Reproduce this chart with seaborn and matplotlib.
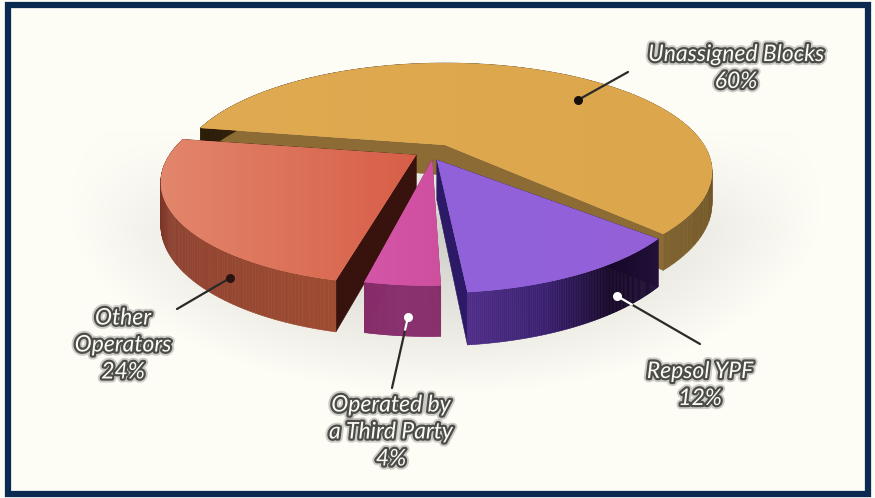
import numpy as np
import matplotlib
matplotlib.use('Agg')
import matplotlib.pyplot as plt
import matplotlib.patheffects as pe
from matplotlib.collections import PolyCollection
from matplotlib.colors import LinearSegmentedColormap, to_rgb
from matplotlib.patches import Rectangle
from matplotlib.transforms import Transform
import seaborn as sns

# chart values
categories = ['Unassigned Blocks', 'Other\nOperators', 'Operated by\na Third Party', 'Repsol YPF']
shares = [60, 24, 4, 12]

# slice look, same order as categories
top_colors = [['#e0aa52', '#dca64c'], ['#e2866c', '#d85e48'], ['#d456a8', '#cf4f9f'], ['#9062da', '#9460d8']]
arc_colors = [['#2c1c08', '#4a3414', '#806430'], ['#5a1e18', '#8e4230', '#9e4c32'],
              ['#862c68', '#8a3070', '#88306c'], ['#4e2c88', '#3a2070', '#160828', '#221038']]
cut_colors = ['#8c6c34', '#38120c', '#862c68', '#2c1a66']
slice_centers = [(0, 0), (-0.109, -0.096), (-0.048, -0.142), (-0.03, -0.142)]
slice_radius = [1.0, 0.93, 0.89, 0.93]
slice_turn = [0, 0.6, 1.5, 5.0]
slice_depth = [30, 39, 38, 39]

# leader lines: dot then far end, dot colour
leaders = [((578, 100), (628, 72), '#15100a'), ((230, 278), (177, 309), '#2a1410'),
           ((408, 317), (392, 388), 'white'), ((617, 296), (700, 344), 'white')]
label_pos = [(736, 68), (123, 345), (391, 432), (700, 385)]

ORIGIN = (445, 145)
PIE_A, PIE_B, PIE_K = 259, 102, 0.244


def project(x, y, z=0.0):
    w = 1 + PIE_K * y
    return ORIGIN[0] + PIE_A * x / w, ORIGIN[1] - PIE_B * y / w + z / w


class PiePlane(Transform):
    input_dims = 2
    output_dims = 2

    def transform_non_affine(self, values):
        px, py = project(values[:, 0], values[:, 1])
        return np.column_stack([px, py])


def text_effects():
    return [pe.withStroke(linewidth=6, foreground='#00000030'),
            pe.withStroke(linewidth=3.2, foreground='#4c4c48')]


sns.set_theme(style='white')
plt.rcParams['font.family'] = ['Lato', 'DejaVu Sans']

fig = plt.figure(figsize=(8.75, 4.98), dpi=100, facecolor='white')
ax = fig.add_axes([0, 0, 1, 1])

wedges, _ = ax.pie(shares, startangle=-46, radius=1, frame=True,
                   colors=sns.color_palette([c[0] for c in top_colors]))

ax.set_aspect('auto')
ax.set_xlim(0, 875)
ax.set_ylim(498, 0)
ax.axis('off')

# paper background with the soft shadow under the pie
yy, xx = np.mgrid[0:498, 0:875]
d = np.sqrt(((xx - 445) / 300) ** 2 + ((yy - 205) / 150) ** 2)
shadow = 0.17 * np.clip(1.25 - d, 0, 1) ** 1.0 * np.clip((yy - 130) / 100, 0, 1)
paper = np.array(to_rgb('#fdfcf5'))
bg = np.clip(paper[None, None, :] * (1 - shadow[..., None]), 0, 1)
ax.imshow(bg, extent=(0, 875, 498, 0), aspect='auto', zorder=0)
ax.set_xlim(0, 875)
ax.set_ylim(498, 0)

for i, w in enumerate(wedges):
    base = 2 + i if i < 2 else {2: 5, 3: 4}[i]
    w.set_center(slice_centers[i])
    w.set_radius(slice_radius[i])
    w.set_theta1(w.theta1 + slice_turn[i])
    w.set_theta2(w.theta2 + slice_turn[i])
    w.set_transform(PiePlane() + ax.transData)
    w.set_zorder(base + 0.5)
    w.set_linewidth(0)
    cx, cy = slice_centers[i]
    r = slice_radius[i]
    depth = slice_depth[i]
    ang = np.radians(np.linspace(w.theta1, w.theta2, 120))
    ex, ey = cx + r * np.cos(ang), cy + r * np.sin(ang)

    # two cut faces
    cuts = []
    for px, py in ((ex[0], ey[0]), (ex[-1], ey[-1])):
        top1, top2 = project(cx, cy), project(px, py)
        bot2, bot1 = project(px, py, depth), project(cx, cy, depth)
        cuts.append([top1, top2, bot2, bot1])
    ax.add_collection(PolyCollection(cuts, facecolors=cut_colors[i], edgecolors=cut_colors[i],
                                     linewidths=0.4, zorder=base))

    # outer wall, shaded along the arc
    cmap = LinearSegmentedColormap.from_list(f'arc{i}', arc_colors[i])
    shade = cmap(np.linspace(0, 1, len(ex) - 1))
    if i == 0:
        shade = cmap(np.abs(np.linspace(1, 0, len(ex) - 1)))
    quads = [[project(ex[j], ey[j]), project(ex[j + 1], ey[j + 1]),
              project(ex[j + 1], ey[j + 1], depth), project(ex[j], ey[j], depth)] for j in range(len(ex) - 1)]
    ax.add_collection(PolyCollection(quads, facecolors=shade, edgecolors=shade, linewidths=0.4,
                                     zorder=base + 0.2))

    # top face gradient, clipped to the wedge
    tc = LinearSegmentedColormap.from_list(f'top{i}', top_colors[i])
    xs = [project(a, b)[0] for a, b in zip(ex, ey)] + [project(cx, cy)[0]]
    im = ax.imshow(np.linspace(0, 1, 64)[None, :], cmap=tc, aspect='auto',
                   extent=(min(xs), max(xs), 498, 0), zorder=base + 0.6)
    im.set_clip_path(w.get_path(), w.get_transform())

ax.set_xlim(0, 875)
ax.set_ylim(498, 0)

# leader lines and labels
for (p0, p1, c) in leaders:
    ax.plot([p0[0], p1[0]], [p0[1], p1[1]], color='#2a2a28', lw=1.6, zorder=9, solid_capstyle='round')
    if c == 'white':
        mx = p0[0] + (p1[0] - p0[0]) * 0.18
        my = p0[1] + (p1[1] - p0[1]) * 0.18
        ax.plot([p0[0], mx], [p0[1], my], color='white', lw=1.6, zorder=9.1)
    ax.plot(p0[0], p0[1], 'o', ms=6.5, color=c, mew=0, zorder=9.2)

for cat, val, (lx, ly) in zip(categories, shares, label_pos):
    ax.text(lx, ly, f'{cat}\n{val}%', ha='center', va='center', fontsize=16.5, style='italic',
            color='#fbfbf4', linespacing=1.35, path_effects=text_effects(), zorder=10)

# navy frame
ax.add_patch(Rectangle((8, 4.5), 860, 489, fill=False, ec='#0b2a52', lw=4.5, zorder=11))

plt.savefig('out.png', dpi=100)
plt.close()
